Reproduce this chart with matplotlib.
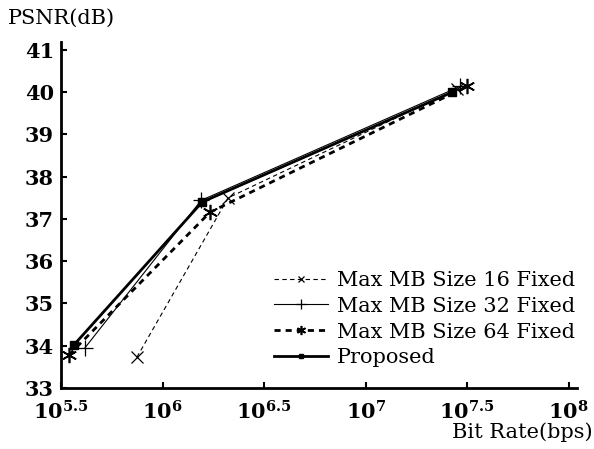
import numpy as np
import matplotlib
matplotlib.use("Agg")
import matplotlib.pyplot as plt

# log10 of bit rate (bps) and PSNR (dB)
x16 = [5.874, 6.323, 7.45]
y16 = [33.73, 37.50, 40.08]
x32 = [5.618, 6.19, 7.466]
y32 = [33.95, 37.44, 40.14]
x64 = [5.539, 6.234, 7.50]
y64 = [33.78, 37.16, 40.14]
xprop = [5.564, 6.195, 7.426]
yprop = [34.02, 37.40, 40.00]

labels = ["Max MB Size 16 Fixed", "Max MB Size 32 Fixed",
          "Max MB Size 64 Fixed", "Proposed"]
xtick_exp = [5.5, 6, 6.5, 7, 7.5, 8]
xtick_labels = [r"$\mathbf{10^{5.5}}$", r"$\mathbf{10^{6}}$", r"$\mathbf{10^{6.5}}$",
                r"$\mathbf{10^{7}}$", r"$\mathbf{10^{7.5}}$", r"$\mathbf{10^{8}}$"]
yticks = [33, 34, 35, 36, 37, 38, 39, 40, 41]

plt.rcParams['font.family'] = ['DejaVu Serif']
plt.rcParams['mathtext.fontset'] = 'dejavuserif'

fig = plt.figure(figsize=(5.94, 4.49), dpi=100)
ax = fig.add_axes([0.1027, 0.136, 0.971 - 0.1027, 0.9065 - 0.136])

p = lambda v: [10 ** e for e in v]
ast = (6, 2, 0)
ax.plot(p(x16), y16, color='black', lw=0.8, ls=(0, (4, 3)), marker='x',
        ms=8, mew=0.9, label=labels[0])
ax.plot(p(x32), y32, color='black', lw=0.8, ls='-', marker='+',
        ms=11, mew=0.9, label=labels[1])
ax.plot(p(x64), y64, color='black', lw=2.0, ls=(0, (2.2, 1.8)), marker=ast,
        ms=11, mew=1.2, label=labels[2])
ax.plot(p(xprop), yprop, color='black', lw=2.0, ls='-', marker='s',
        ms=6, label=labels[3])

ax.set_xscale('log')
ax.set_xlim(10 ** 5.5, 10 ** 8.04)
ax.set_ylim(33, 41.19)
ax.set_xticks([10 ** e for e in xtick_exp])
ax.set_xticklabels(xtick_labels)
ax.xaxis.set_minor_locator(matplotlib.ticker.NullLocator())
ax.set_yticks(yticks)
ax.set_yticklabels([str(v) for v in yticks], fontweight='bold')

for s in ['top', 'right']:
    ax.spines[s].set_visible(False)
for s in ['left', 'bottom']:
    ax.spines[s].set_linewidth(2.0)
ax.tick_params(direction='in', length=4, width=1.5, labelsize=15)
ax.tick_params(axis='x', pad=9)
ax.tick_params(axis='y', pad=5)

fig.text(0.013, 0.96, "PSNR(dB)", fontsize=15, ha='left', va='center')
fig.text(0.998, 0.038, "Bit Rate(bps)", fontsize=15, ha='right', va='center')

leg = ax.legend(loc='lower right', bbox_to_anchor=(1.012, 0.035), frameon=False,
                fontsize=15, handlelength=2.6, handletextpad=0.4,
                labelspacing=0.33, borderaxespad=0.0, markerscale=0.6)

fig.savefig("out.png", dpi=100)
